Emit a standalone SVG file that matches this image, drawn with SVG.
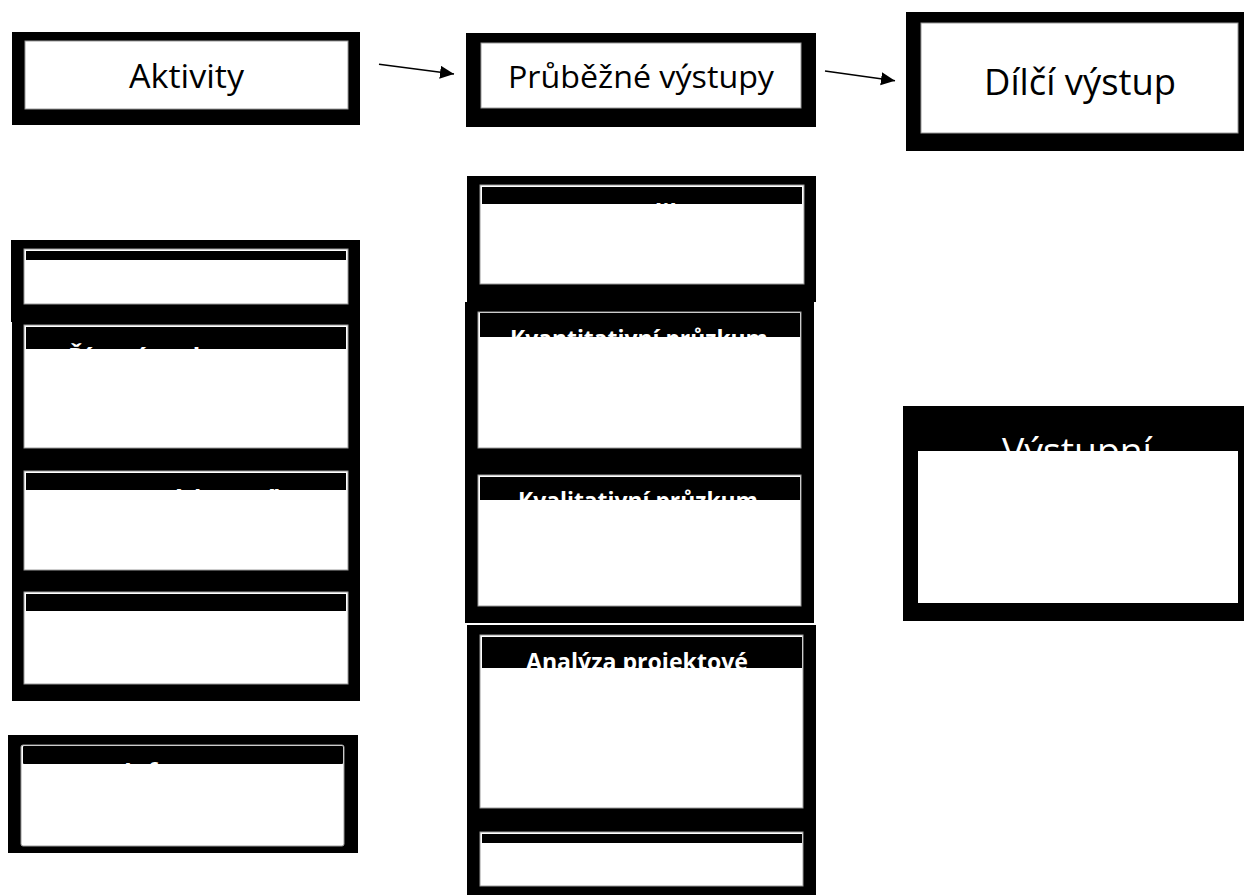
<svg xmlns="http://www.w3.org/2000/svg" width="1244" height="895" viewBox="0 0 1244 895">
<style>
.outer{fill:#000}
.body{fill:#fff;stroke:#9a9a9a;stroke-width:1}
.bar{fill:#000}
.title{font-family:"Open Sans","Liberation Sans",sans-serif;font-weight:400;fill:#000;text-anchor:middle}
.hdr{font-family:"Open Sans","Liberation Sans",sans-serif;font-weight:700;font-size:24px;fill:#fff}
.hdrbig{font-family:"Open Sans","Liberation Sans",sans-serif;font-weight:400;font-size:36px;fill:#fff;text-anchor:middle}
.conn{stroke:#000;stroke-width:1.5;fill:none}
</style>
<defs>
<marker id="ah" markerUnits="userSpaceOnUse" markerWidth="15" markerHeight="14" refX="14" refY="6.5" orient="auto">
<path d="M0,0 L14,6.5 L0,13 z" fill="#000"/>
</marker>
</defs>
<rect width="1244" height="895" fill="#fff"/>

<g id="aktivity">
<rect class="outer" x="12" y="32" width="348" height="93"/>
<rect class="body" x="25" y="41" width="323" height="68"/>
<text class="title" x="186.5" y="88" font-size="33" textLength="115" lengthAdjust="spacingAndGlyphs">Aktivity</text>
</g>

<g id="prubezne">
<rect class="outer" x="466" y="33" width="350" height="94"/>
<rect class="body" x="481" y="43" width="320" height="65"/>
<text class="title" x="641" y="88" font-size="31" textLength="266" lengthAdjust="spacingAndGlyphs">Průběžné výstupy</text>
</g>

<g id="dilci">
<rect class="outer" x="906" y="12" width="338" height="139"/>
<rect class="body" x="921" y="23" width="317" height="110"/>
<text class="title" x="1080" y="95" font-size="36" textLength="192" lengthAdjust="spacingAndGlyphs">Dílčí výstup</text>
</g>

<g id="connectors">
<line class="conn" x1="379" y1="64.3" x2="454" y2="74" marker-end="url(#ah)"/>
<line class="conn" x1="825" y1="71" x2="895" y2="80.7" marker-end="url(#ah)"/>
</g>

<g id="a1">
<rect class="outer" x="11" y="240" width="349" height="82"/>
<rect class="body" x="24" y="249" width="324" height="55"/>
<rect class="bar" x="26" y="251" width="320" height="9"/>
</g>

<g id="a2">
<rect class="outer" x="12" y="318" width="348" height="145"/>
<rect class="body" x="24" y="325" width="324" height="123"/>
<rect class="bar" x="26" y="327" width="320" height="22"/>
<text class="hdr" x="68" y="365" textLength="210" lengthAdjust="spacingAndGlyphs">Řízené rozhovory</text>
</g>

<g id="a3">
<rect class="outer" x="12" y="462" width="348" height="126"/>
<rect class="body" x="24" y="471" width="324" height="99"/>
<rect class="bar" x="26" y="473" width="320" height="17"/>
<text class="hdr" x="186" y="507" text-anchor="middle" textLength="234" lengthAdjust="spacingAndGlyphs">Sestavení dotazníku</text>
</g>

<g id="a4">
<rect class="outer" x="12" y="587" width="348" height="114"/>
<rect class="body" x="24" y="592" width="324" height="92"/>
<rect class="bar" x="26" y="594" width="320" height="17"/>
</g>

<g id="a5">
<rect class="outer" x="8" y="735" width="350" height="118"/>
<rect class="body" x="21" y="745" width="323" height="101" rx="2"/>
<rect class="bar" x="23" y="746" width="320" height="18" rx="1"/>
<text class="hdr" x="124" y="780">Informace</text>
</g>

<g id="m1">
<rect class="outer" x="467" y="176" width="349" height="126"/>
<rect class="body" x="480" y="185" width="324" height="99"/>
<rect class="bar" x="482" y="187" width="320" height="17"/>
<text class="hdr" x="642" y="221" text-anchor="middle">Metodika</text>
</g>

<g id="m2">
<rect class="outer" x="465" y="302" width="349" height="163"/>
<rect class="body" x="478" y="312" width="323" height="136"/>
<rect class="bar" x="480" y="313" width="320" height="24"/>
<text class="hdr" x="510" y="347" textLength="258" lengthAdjust="spacingAndGlyphs">Kvantitativní průzkum</text>
</g>

<g id="m3">
<rect class="outer" x="465" y="463" width="349" height="160"/>
<rect class="body" x="478" y="475" width="323" height="131"/>
<rect class="bar" x="480" y="477" width="320" height="23"/>
<text class="hdr" x="518" y="509" textLength="240" lengthAdjust="spacingAndGlyphs">Kvalitativní průzkum</text>
</g>

<g id="m4">
<rect class="outer" x="467" y="625" width="349" height="195"/>
<rect class="body" x="480" y="635" width="323" height="173"/>
<rect class="bar" x="482" y="637" width="320" height="31"/>
<text class="hdr" x="526" y="670" textLength="222" lengthAdjust="spacingAndGlyphs">Analýza projektové</text>
</g>

<g id="m5">
<rect class="outer" x="467" y="820" width="349" height="75"/>
<rect class="body" x="480" y="832" width="323" height="54"/>
<rect class="bar" x="482" y="834" width="320" height="9"/>
</g>

<g id="r2">
<rect class="outer" x="903" y="406" width="341" height="215"/>
<text class="hdrbig" x="1077" y="464" textLength="150" lengthAdjust="spacingAndGlyphs">Výstupní</text>
<rect x="918" y="451" width="320" height="152" fill="#fff"/>
</g>
</svg>
